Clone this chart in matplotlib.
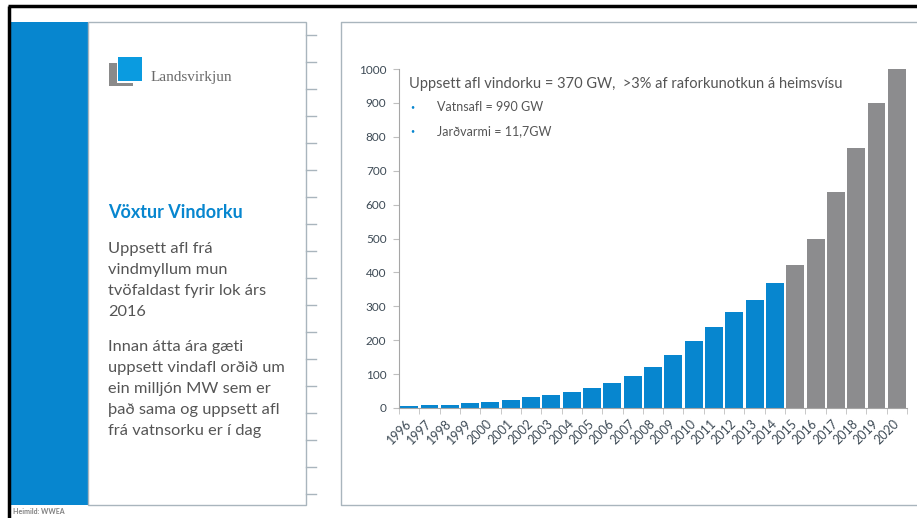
import numpy as np
import matplotlib.pyplot as plt
from matplotlib.patches import Rectangle

plt.rcParams['font.family'] = ['Lato', 'DejaVu Sans']

# Uppsett afl vindorku (GW), WWEA
years = [str(y) for y in range(1996, 2021)]
actual = [6.1, 7.6, 10.2, 13.6, 17.4, 23.9, 31.1, 39.4, 47.6, 59.1, 73.9, 93.9,
          120.6, 157.0, 198.0, 237.7, 282.0, 319.0, 369.6]
forecast = [423, 500, 636, 768, 900, 1000]
yticks = [0, 100, 200, 300, 400, 500, 600, 700, 800, 900, 1000]

headline = 'Uppsett afl vindorku = 370 GW,  >3% af raforkunotkun á heimsvísu'
bullets = ['Vatnsafl = 990 GW', 'Jarðvarmi = 11,7GW']
title = 'Vöxtur Vindorku'
para1 = ['Uppsett afl frá', 'vindmyllum mun', 'tvöfaldast fyrir lok árs', '2016']
para2 = ['Innan átta ára gæti', 'uppsett vindafl orðið um', 'ein milljón MW sem er',
         'það sama og uppsett afl', 'frá vatnsorku er í dag']

BLUE = '#0786cf'
GREY_BAR = '#8c8c8e'
TXT = '#555555'
TICK = '#3d4a55'
FRAME = '#a9b5bd'

W, H = 917, 518
fig = plt.figure(figsize=(W / 100, H / 100), dpi=100)

# slide background in pixel coords
bg = fig.add_axes([0, 0, 1, 1])
bg.set_xlim(0, W)
bg.set_ylim(H, 0)
bg.set_autoscale_on(False)
bg.axis('off')

# black frame of the slide
bg.plot([8, W - 0.5], [6, 6], color='black', lw=2.5, solid_capstyle='butt')
bg.plot([8.5, 8.5], [6, H - 0.5], color='black', lw=2.5, solid_capstyle='butt')

# left blue strip and text panel
bg.add_patch(Rectangle((10, 22), 78, 483, color=BLUE, lw=0))
bg.add_patch(Rectangle((88, 22), 218, 483, fill=False, ec=FRAME, lw=1))
for yt in np.arange(35, 500, 27):
    bg.plot([306, 316], [yt, yt], color=FRAME, lw=1)

# right chart panel (open to the right)
bg.plot([W - 0.5, 341, 341, W - 0.5], [22, 22, 505, 505], color=FRAME, lw=1,
        solid_capstyle='butt')

# logo
bg.add_patch(Rectangle((109, 63), 24, 23, color='#8a8a8a', lw=0))
bg.add_patch(Rectangle((116.5, 55.5), 26.5, 27, color='white', lw=0))
bg.add_patch(Rectangle((118, 57), 24, 24, color='#0a9be0', lw=0))
bg.text(151, 77, 'Landsvirkjun', family='Liberation Serif', fontsize=11,
        color='#6a6a6a', va='center', ha='left')

# left text
bg.text(108, 213, title, color=BLUE, fontsize=13, fontweight='bold', va='center')
for i, line in enumerate(para1):
    bg.text(108, 249 + i * 21, line, color=TXT, fontsize=11.8, va='center')
for i, line in enumerate(para2):
    bg.text(108, 347 + i * 21, line, color=TXT, fontsize=11.8, va='center')

bg.text(13, 512, 'Heimild: WWEA', color='#808080', fontsize=5,
        fontweight='bold', va='center')

# chart
ax = fig.add_axes([399 / W, (H - 408) / H, (907 - 399) / W, (408 - 69) / H])
x = np.arange(len(years))
colors = [BLUE] * len(actual) + [GREY_BAR] * len(forecast)
ax.bar(x, actual + forecast, width=0.88, color=colors, zorder=2)
ax.set_xlim(-0.5, len(years) - 0.5)
ax.set_ylim(0, 1000)
ax.set_yticks(yticks)
ax.set_yticklabels([str(v) for v in yticks])
ax.set_xticks(x)
ax.set_xticklabels(years)
ax.set_xticks(np.arange(-0.5, len(years)), minor=True)
ax.tick_params(axis='x', which='major', length=0, pad=10, labelsize=9, labelcolor=TICK)
plt.setp(ax.get_xticklabels(), rotation=45, ha='right', va='center',
         rotation_mode='anchor')
ax.tick_params(axis='x', which='minor', length=4, color='#bfbfbf', direction='out')
ax.tick_params(axis='y', length=4, color='#bfbfbf', pad=5, labelsize=8.5, labelcolor=TICK)
for s in ['top', 'right']:
    ax.spines[s].set_visible(False)
ax.spines['left'].set_color('#a6a6a6')
ax.spines['bottom'].set_color('#a6a6a6')
ax.patch.set_alpha(0)

# headline inside chart
bg.text(409, 84, headline, color=TXT, fontsize=10.5, va='center')
for i, b in enumerate(bullets):
    yb = 107 + i * 24
    bg.text(410, yb, '•', color=BLUE, fontsize=5, va='center')
    bg.text(437, yb, b, color=TXT, fontsize=9, va='center')

fig.savefig('out.png', dpi=100)
